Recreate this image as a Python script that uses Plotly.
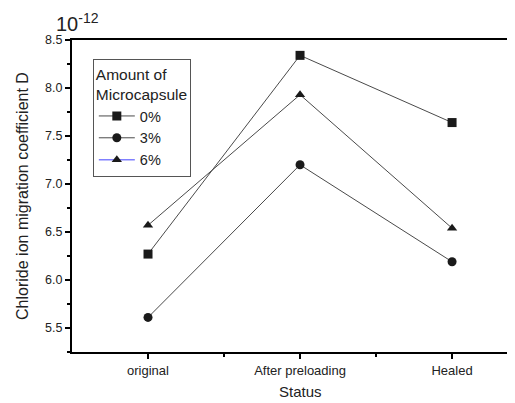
import plotly.graph_objects as go

statuses = ["original", "After preloading", "Healed"]
d_0 = [6.27, 8.34, 7.64]
d_3 = [5.61, 7.20, 6.19]
d_6 = [6.57, 7.93, 6.54]
series_names = ["0%", "3%", "6%"]
symbols = ["square", "circle", "triangle-up"]

xpos = list(range(len(statuses)))
fig = go.Figure()
for name, vals, sym in zip(series_names, [d_0, d_3, d_6], symbols):
    show = name != "6%"
    fig.add_trace(go.Scatter(
        x=xpos, y=vals, name=name, mode="lines+markers",
        line=dict(color="#4a4a4a", width=1),
        marker=dict(symbol=sym, size=9, color="#1a1a1a"),
        showlegend=show,
    ))
# legend entry for 6% drawn with the blue line as in the original
fig.add_trace(go.Scatter(
    x=[None], y=[None], name="6%", mode="lines+markers",
    line=dict(color="#8080ff", width=1.5),
    marker=dict(symbol="triangle-up", size=9, color="#1a1a1a"),
))

# page body has an 8px margin, so the figure is sized to fill the rest of the window
fig.update_layout(
    width=507, height=395,
    margin=dict(l=64, r=0, t=32, b=51, autoexpand=False),
    paper_bgcolor="white", plot_bgcolor="white",
    font=dict(family="Liberation Sans, Arial", color="#222", size=12),
    showlegend=True,
    legend=dict(
        x=0.047, y=0.94, xanchor="left", yanchor="top",
        title=dict(text="Amount of<br>Microcapsule", font=dict(size=15.5)),
        bordercolor="#555", borderwidth=1, bgcolor="white",
        font=dict(size=14.5), tracegroupgap=0, itemwidth=36,
    ),
    xaxis=dict(
        range=[-0.5, 2.414], tickvals=xpos, ticktext=statuses,
        showgrid=False, zeroline=False, automargin=False,
        showline=True, linecolor="black", linewidth=2, mirror=True,
        ticks="outside", ticklen=5, tickwidth=2, tickcolor="black",
        minor=dict(tickvals=[0.5, 1.5], ticks="outside", ticklen=3, tickwidth=2, tickcolor="black"),
        tickfont=dict(size=13),
    ),
    yaxis=dict(
        range=[5.25, 8.5], tickvals=[5.5, 6.0, 6.5, 7.0, 7.5, 8.0, 8.5],
        ticktext=["5.5", "6.0", "6.5", "7.0", "7.5", "8.0", "8.5"],
        showgrid=False, zeroline=False, automargin=False,
        showline=True, linecolor="black", linewidth=2,
        ticks="outside", ticklen=5, tickwidth=2, tickcolor="black",
        minor=dict(dtick=0.25, ticks="outside", ticklen=3, tickwidth=2, tickcolor="black"),
        tickfont=dict(size=12.5),
    ),
    annotations=[
        dict(text="10<sup>-12</sup>", xref="paper", yref="paper",
             x=-0.04, y=1.01, xanchor="left", yanchor="bottom",
             showarrow=False, font=dict(size=20, color="#222")),
        dict(text="Chloride ion migration coefficient D", xref="paper", yref="paper",
             x=-0.113, y=0.5, xanchor="center", yanchor="middle", textangle=-90,
             showarrow=False, font=dict(size=16, color="#222")),
        dict(text="Status", xref="paper", yref="paper",
             x=(300 - 72) / 443, y=-0.128, xanchor="center", yanchor="middle",
             showarrow=False, font=dict(size=15, color="#222")),
    ],
)

fig.write_html("out.html")
